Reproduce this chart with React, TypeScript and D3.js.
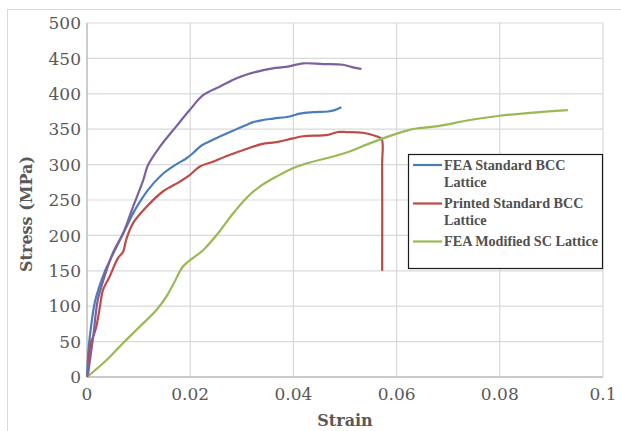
import React from 'react';
import * as d3 from 'd3';

const W = 621;
const H = 431;
const MARGIN = { top: 23, right: 18, bottom: 54, left: 87 };
const INNER_W = 603 - MARGIN.left;
const INNER_H = 377 - MARGIN.top;

const xTicks = [0, 0.02, 0.04, 0.06, 0.08, 0.1];
const xTickLabels = ['0', '0.02', '0.04', '0.06', '0.08', '0.1'];
const yTicks = [0, 50, 100, 150, 200, 250, 300, 350, 400, 450, 500];

const blueStrain = [0, 0.0003, 0.0008, 0.0015, 0.0025, 0.0035, 0.0048, 0.006, 0.0075, 0.0093, 0.0118, 0.0144, 0.017, 0.0193, 0.0205, 0.0222, 0.0244, 0.0277, 0.0309, 0.0322, 0.0341, 0.0361, 0.0393, 0.0412, 0.0438, 0.0467, 0.048, 0.0493];
const blueStress = [0, 40, 72, 105, 130, 150, 170, 188, 210, 236, 264, 285, 299, 309, 316, 327, 335, 346, 356, 360, 363, 365, 368, 372, 374, 375, 377, 381];

const redStrain = [0, 0.0002, 0.0007, 0.0012, 0.0018, 0.0025, 0.0031, 0.0044, 0.006, 0.007, 0.0076, 0.0089, 0.0115, 0.0147, 0.018, 0.0199, 0.0218, 0.0244, 0.0277, 0.0309, 0.0338, 0.037, 0.0399, 0.0419, 0.0467, 0.0486, 0.0503, 0.0535, 0.0561, 0.0571, 0.0572, 0.0572];
const redStress = [0, 6, 48, 57, 71, 99, 123, 142, 168, 177, 194, 217, 240, 262, 276, 285, 297, 304, 314, 322, 329, 332, 337, 340, 342, 346, 346, 345, 340, 336, 300, 150];

const greenStrain = [0, 0.0038, 0.007, 0.0102, 0.0135, 0.0155, 0.0168, 0.0186, 0.0205, 0.0225, 0.0254, 0.0283, 0.0312, 0.0335, 0.0367, 0.0399, 0.0432, 0.0464, 0.0503, 0.0548, 0.0593, 0.0625, 0.0638, 0.0677, 0.0742, 0.08, 0.0858, 0.0932];
const greenStress = [0, 24, 48, 71, 95, 115, 132, 156, 168, 179, 203, 231, 255, 269, 283, 295, 303, 309, 317, 330, 342, 349, 351, 354, 363, 369, 373, 377];

const purpleStrain = [0, 0.0002, 0.0012, 0.0021, 0.0034, 0.005, 0.007, 0.0089, 0.0109, 0.0118, 0.0141, 0.0173, 0.0199, 0.0225, 0.0257, 0.029, 0.0328, 0.036, 0.0386, 0.0419, 0.0457, 0.0496, 0.0512, 0.0532];
const purpleStress = [0, 6, 57, 109, 142, 175, 203, 240, 278, 299, 325, 354, 377, 398, 410, 422, 431, 436, 438, 443, 442, 441, 438, 435];

const SERIES = [
  { name: 'FEA Standard BCC Lattice', lines: ['FEA Standard BCC', 'Lattice'], color: '#4a7ebb', x: blueStrain, y: blueStress, legend: true },
  { name: 'Printed Standard BCC Lattice', lines: ['Printed Standard BCC', 'Lattice'], color: '#be4b48', x: redStrain, y: redStress, legend: true },
  { name: 'FEA Modified SC Lattice', lines: ['FEA Modified SC Lattice'], color: '#98b954', x: greenStrain, y: greenStress, legend: true },
  { name: 'Series 4', lines: [], color: '#7d60a0', x: purpleStrain, y: purpleStress, legend: false },
];

const SERIF = '"DejaVu Serif", serif';

export default function App() {
  const xScale = d3.scaleLinear().domain([0, 0.1]).range([0, INNER_W]);
  const yScale = d3.scaleLinear().domain([0, 500]).range([INNER_H, 0]);
  const line = d3
    .line<[number, number]>()
    .x((d) => xScale(d[0]))
    .y((d) => yScale(d[1]))
    .curve(d3.curveCatmullRom.alpha(0.5));

  const legendItems = SERIES.filter((s) => s.legend);
  const legendRowY = [165, 203.5, 241.5];

  return (
    <svg width={W} height={H} style={{ position: 'absolute', left: 0, top: 0, background: '#fff' }}>
      <rect x={7.5} y={9.5} width={W} height={H} fill="none" stroke="#d9d9d9" />
      <g transform={`translate(${MARGIN.left},${MARGIN.top})`}>
        {/* Grid */}
        {yTicks.map((t) => (
          <line key={t} x1={0} x2={INNER_W} y1={yScale(t)} y2={yScale(t)} stroke="#d9d9d9" strokeWidth={1.2} />
        ))}
        {xTicks.map((t) => (
          <line key={t} x1={xScale(t)} x2={xScale(t)} y1={0} y2={INNER_H} stroke="#d9d9d9" strokeWidth={1.2} />
        ))}
        <line x1={0} x2={INNER_W} y1={INNER_H} y2={INNER_H} stroke="#bfbfbf" strokeWidth={1.3} />
        <line x1={0} x2={0} y1={0} y2={INNER_H} stroke="#bfbfbf" strokeWidth={1.3} />

        {/* Tick labels */}
        {yTicks.map((t) => (
          <text key={t} x={-6} y={yScale(t)} dy="0.36em" textAnchor="end" fontFamily={SERIF} fontSize={17} fill="#595959">
            {t}
          </text>
        ))}
        {xTicks.map((t, i) => (
          <text key={t} x={xScale(t)} y={INNER_H + 23} textAnchor="middle" fontFamily={SERIF} fontSize={17} fill="#595959">
            {xTickLabels[i]}
          </text>
        ))}

        {/* Series */}
        {SERIES.map((s) => (
          <path
            key={s.name}
            d={line(s.x.map((v, i) => [v, s.y[i]] as [number, number])) ?? ''}
            fill="none"
            stroke={s.color}
            strokeWidth={2.2}
            strokeLinejoin="round"
          />
        ))}
      </g>

      {/* Axis titles */}
      <text x={345} y={426} textAnchor="middle" fontFamily={SERIF} fontWeight="bold" fontSize={16} fill="#595959">
        Strain
      </text>
      <text
        transform="translate(32,214) rotate(-90)"
        textAnchor="middle"
        fontFamily={SERIF}
        fontWeight="bold"
        fontSize={16}
        fill="#595959"
      >
        Stress (MPa)
      </text>

      {/* Legend */}
      <rect x={408.5} y={154.5} width={194} height={114} fill="#fff" stroke="#1a1a1a" strokeWidth={1.2} />
      {legendItems.map((s, i) => (
        <g key={s.name}>
          <line x1={413} x2={442} y1={legendRowY[i]} y2={legendRowY[i]} stroke={s.color} strokeWidth={2.2} />
          {s.lines.map((l, j) => (
            <text
              key={j}
              x={444}
              y={legendRowY[i] + 4.8 + j * 17}
              fontFamily='"Liberation Serif", serif'
              fontWeight="bold"
              fontSize={14.2}
              fill="#505050"
            >
              {l}
            </text>
          ))}
        </g>
      ))}
    </svg>
  );
}
